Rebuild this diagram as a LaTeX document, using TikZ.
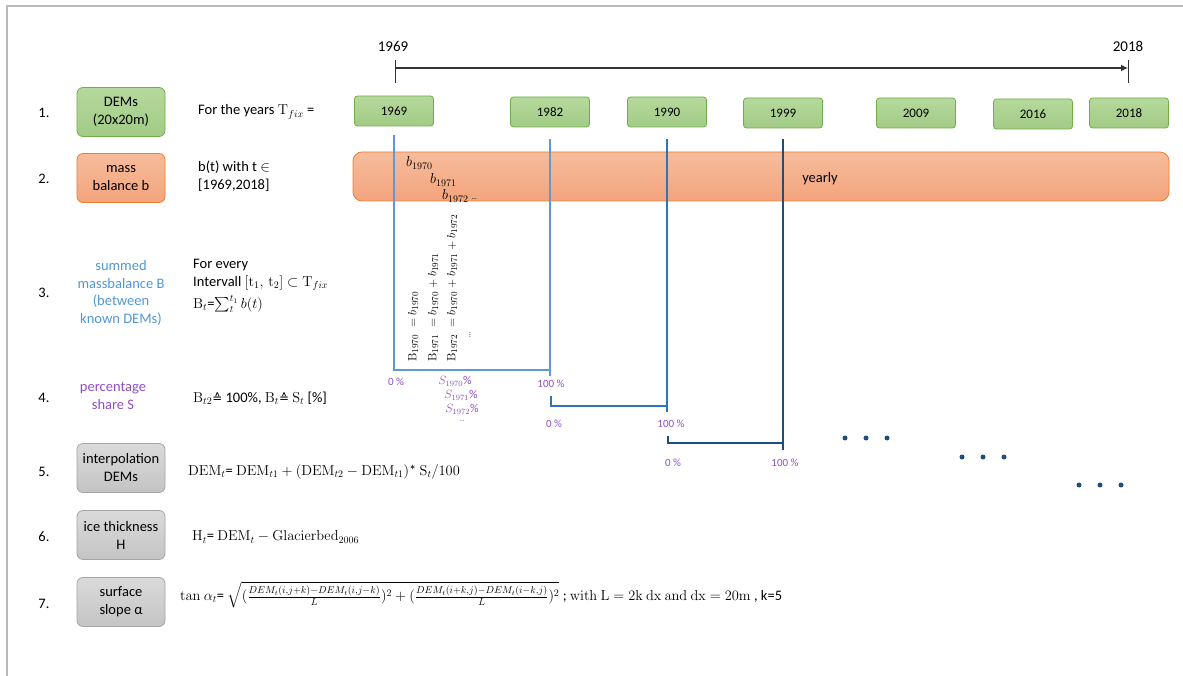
\documentclass[tikz,border=0pt]{standalone}
\usepackage{amsmath, amssymb}
\usepackage[no-math]{fontspec}
\setmainfont{Carlito}
\newfontfamily\symfont{DejaVu Sans}
\usetikzlibrary{arrows.meta,positioning}

\definecolor{demline}{HTML}{70AD47}
\definecolor{demtop}{HTML}{B5D99C}
\definecolor{dembot}{HTML}{A2CB86}
\definecolor{mbline}{HTML}{ED7D31}
\definecolor{mbtop}{HTML}{F6BC9C}
\definecolor{mbbot}{HTML}{F3A47C}
\definecolor{greyline}{HTML}{A5A5A5}
\definecolor{greytop}{HTML}{DADADA}
\definecolor{greybot}{HTML}{C4C4C4}
\definecolor{sumblue}{HTML}{4F97D6}
\definecolor{sharepurple}{HTML}{8E4EC6}
\definecolor{lineone}{HTML}{5B9BD5}
\definecolor{linetwo}{HTML}{2E75B6}
\definecolor{linethree}{HTML}{1F4E79}

\newcommand{\corresp}{{\symfont\fontsize{12}{14}\selectfont ≙}}

\begin{document}
\begin{tikzpicture}[x=1pt,y=-1pt,font=\fontsize{14.5}{18}\selectfont,
  box/.style={draw, rounded corners=6pt, line width=0.8pt, minimum width=88, minimum height=49, align=center, inner sep=2pt},
  greenbox/.style={box, draw=demline, top color=demtop, bottom color=dembot},
  orangebox/.style={box, draw=mbline, top color=mbtop, bottom color=mbbot},
  greybox/.style={box, draw=greyline, top color=greytop, bottom color=greybot},
  yearbox/.style={greenbox, minimum width=79, minimum height=30, rounded corners=3pt, font=\fontsize{13}{15}\selectfont},
  desc/.style={anchor=west, inner sep=0pt},
  pct/.style={text=sharepurple, inner sep=0pt, font=\fontsize{11}{13}\selectfont},
  vtext/.style={rotate=90, anchor=west, inner sep=0pt, font=\fontsize{13}{15}\selectfont},
  bracket/.style={line width=1.3pt}]
\useasboundingbox (0,0) rectangle (1183,676);

% page frame
\draw[gray!55, line width=1.5pt] (7,676) -- (7,6) -- (1183,6);

% row numbers
\foreach \nr/\ny in {1/113, 2/179, 3/293, 4/398, 5/472, 6/537, 7/604}
  \node (r\nr) at (44,\ny) {\nr.};

% left column
\node[greenbox] (dems) at (121,112) {DEMs\\(20x20m)};
\node[orangebox] (mb) at (121,178) {mass\\balance b};
\node[text=sumblue, align=center, font=\fontsize{14.5}{17.5}\selectfont] (sumB) at (121,293) {summed\\massbalance B\\(between\\known DEMs)};
\node[text=sharepurple, align=center] (share) at (113,396) {percentage\\share S};
\node[greybox] (interp) at (121,468) {interpolation\\DEMs};
\node[greybox] (thick) at (121,535) {ice thickness\\H};
\node[greybox] (slope) at (121,602) {surface\\slope α};

% descriptions
\node[desc] (d1) at (198,112) {For the years $\mathrm{T}_{fix}$ =};
\node[desc, align=left] (d2) at (198,176) {b(t) with t $\in$\\{[1969,2018]}};
\node[desc, anchor=north west, align=left] (d3) at (193,259) {For every\\Intervall $[\mathrm{t}_1,\,\mathrm{t}_2]\subset\mathrm{T}_{fix}$\\[4pt]$\mathrm{B}_t$=$\sum_t^{t_1} b(t)$};
\node[desc] (d4) at (193,398) {$\mathrm{B}_{t2}$\corresp{} 100\%, $\mathrm{B}_t$\corresp{} $\mathrm{S}_t$ [\%]};
\node[desc] (d5) at (188,472) {$\mathrm{DEM}_t$= $\mathrm{DEM}_{t1}+(\mathrm{DEM}_{t2}-\mathrm{DEM}_{t1})$* $\mathrm{S}_t/100$};
\node[desc] (d6) at (192,537) {$\mathrm{H}_t$= $\mathrm{DEM}_t-\mathrm{Glacierbed}_{2006}$};
\node[desc] (d7) at (180,595) {$\mathrm{tan}\ \alpha_t$= $\sqrt{(\frac{DEM_t(i,j+k)-DEM_t(i,j-k)}{L})^2+(\frac{DEM_t(i+k,j)-DEM_t(i-k,j)}{L})^2}$ ; $\mathrm{with\ L = 2k\ dx\ and\ dx = 20m}$ , k=5};

% timeline
\coordinate (tl0) at (395,68);
\coordinate (tl1) at (1128,68);
\draw[line width=1.2pt, black!80, -{Latex[length=7pt,width=7pt]}] (tl0) -- (tl1);
\draw[line width=1pt, black!80] (tl0) ++(0,-8) -- ++(0,23);
\draw[line width=1pt, black!80] (tl1) ++(0,-8) -- ++(0,23);
\node[font=\fontsize{15}{17}\selectfont] (lab0) at (393,46) {1969};
\node[font=\fontsize{15}{17}\selectfont] (lab1) at (1128,46) {2018};

% DEM years
\foreach \yr/\xx/\yy in {1969/394/111, 1982/550/112, 1990/667/112, 1999/783/113, 2009/916/113, 2016/1033/114, 2018/1129/113}
  \node[yearbox] (y\yr) at (\xx,\yy) {\yr};

% mass balance bar
\node[orangebox, minimum width=816, minimum height=49, rounded corners=9pt] (bar) at (761,176.5) {};
\node (yearly) at (820,179) {yearly};
\node[anchor=west, inner sep=0pt] (b70) at (406,163) {$b_{1970}$};
\node[anchor=west, inner sep=0pt] (b71) at (430,180) {$b_{1971}$};
\node[anchor=west, inner sep=0pt] (b72) at (442,196) {$b_{1972}$ {\scriptsize\dots}};

% intervals
\coordinate (k1) at (551,376);
\draw[bracket, lineone] ([yshift=-9pt]y1969.south) |- ([yshift=6pt]k1);
\draw[bracket, lineone] ([yshift=-12pt]y1982.south) -- (y1982.south |- k1);
\coordinate (k2s) at (551,396);
\coordinate (k2) at (668,412);
\draw[bracket, linetwo] ([yshift=-12pt]y1990.south) -- (y1990.south |- k2);
\draw[bracket, linetwo] (k2s) |- ([yshift=6pt]k2);
\coordinate (k3s) at (668,436);
\coordinate (k3) at (784,450);
\draw[bracket, linethree] ([yshift=-11pt]y1999.south) -- (y1999.south |- k3);
\draw[bracket, linethree] (k3s) |- ([yshift=7pt]k3);

% summed balances
\node[vtext] (B70) at (413,362) {$\mathrm{B}_{1970}\;=b_{1970}$};
\node[vtext] (B71) at (433,362) {$\mathrm{B}_{1971}\;=b_{1970}+b_{1971}$};
\node[vtext] (B72) at (452,362) {$\mathrm{B}_{1972}\;=b_{1970}+b_{1971}+b_{1972}$};
\node[vtext, font=\scriptsize] (Bdots) at (470,338) {\dots};

% percentages
\node[pct] (p0a) at (396,382) {0 \%};
\node[pct] (p100a) at (551,384) {100 \%};
\node[pct] (p0b) at (554,424) {0 \%};
\node[pct] (p100b) at (671,424) {100 \%};
\node[pct] (p0c) at (673,463) {0 \%};
\node[pct] (p100c) at (785,463) {100 \%};
\node[pct, font=\fontsize{12}{14}\selectfont] (s70) at (455,381) {$S_{1970}$\%};
\node[pct, font=\fontsize{12}{14}\selectfont] (s71) at (461,395) {$S_{1971}$\%};
\node[pct, font=\fontsize{12}{14}\selectfont] (s72) at (462,409) {$S_{1972}$\%};
\node[pct, font=\scriptsize] (sdots) at (462,421) {\dots};

% further intervals
\foreach \cx/\cy in {845/438, 866/438, 887/438, 962/457, 983/457, 1004/457, 1079/485, 1100/485, 1121/485}
  \fill[linethree] (\cx,\cy) circle (2.5);
\end{tikzpicture}
\end{document}
